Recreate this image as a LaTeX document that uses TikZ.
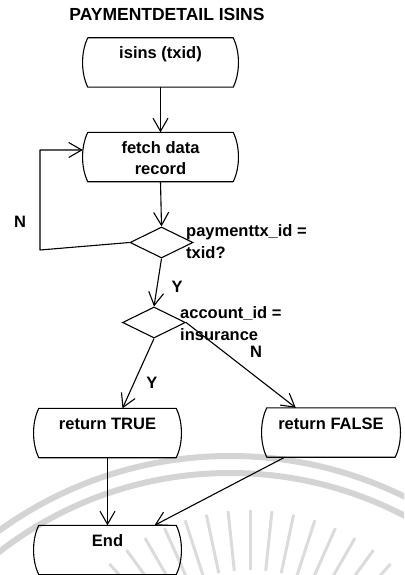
\documentclass[tikz,border=0pt]{standalone}
\usepackage{fontspec}
\setmainfont{Liberation Sans}
\usetikzlibrary{shapes.geometric,arrows.meta,calc}

% outline of a terminal box: flat top and bottom, bowed sides
\newcommand\termframe[1]{%
  \draw[frame] (#1.north west)
    .. controls ([shift={(-7pt,-14pt)}]#1.north west) and ([shift={(-7pt,14pt)}]#1.south west) .. (#1.south west)
    -- (#1.south east)
    .. controls ([shift={(7pt,14pt)}]#1.south east) and ([shift={(7pt,-14pt)}]#1.north east) .. (#1.north east)
    -- cycle;}
% text of a terminal box, set from the top with the first baseline 21pt down
\newcommand\termtext[1]{\parbox[c][49pt][t]{126pt}{\centering\rule{0pt}{21pt}#1}}

\begin{document}
\begin{tikzpicture}[x=1pt,y=-1pt,
  every node/.style={font=\fontsize{16.5}{21}\selectfont\bfseries},
  heading/.style={font=\fontsize{17.5}{21}\selectfont\bfseries},
  term/.style={inner sep=0pt},
  decision/.style={draw, line width=1.1pt, shape=diamond, aspect=2,
    minimum width=63pt, minimum height=31pt, inner sep=0pt},
  frame/.style={line width=1.1pt, line join=round},
  arr/.style={line width=1.1pt, line join=round,
    -{Straight Barb[length=13pt,width=15pt,line width=1.1pt]}},
  note/.style={align=left, inner sep=0pt, anchor=north west,
    font=\fontsize{16.5}{22}\selectfont\bfseries},
  branch/.style={inner sep=0pt},
  wmark/.style={draw=black!17, line width=6pt},
  wray/.style={draw=black!14, line width=3pt}]

\useasboundingbox (0,0) rectangle (404,575);

% faint seal in the background
\begin{scope}
  \clip (0,0) rectangle (404,575);
  \coordinate (wa) at (230,850);
  \draw[wmark] (wa) circle[radius=394pt];
  \draw[wmark] (wa) circle[radius=377pt];
  \coordinate (wr) at (250,720);
  \foreach \a in {48,54,...,138}
    \draw[wray] ($(wr)+(\a:150pt)$) -- ($(wr)+(\a:210pt)$);
\end{scope}

% title
\node[heading] (title) at (167,14) {PAYMENTDETAIL ISINS};

% terminal boxes
\node[term, minimum width=145pt] (start) at (160.5,62.5) {\termtext{isins (txid)}};
\node[term, minimum width=145pt] (fetch) at (160.5,157) {\termtext{fetch data\\record}};
\node[term, minimum width=137pt] (rt) at (107.5,433) {\termtext{return TRUE}};
\node[term, minimum width=128pt] (rf) at (331,432.5) {\termtext{return FALSE}};
\node[term, minimum width=137pt] (end) at (107.5,550) {\termtext{End}};
\foreach \n in {start,fetch,rt,rf,end} \termframe{\n};

% decisions
\node[decision] (d1) at (161.5,242.5) {};
\node[decision] (d2) at (154,322.5) {};
\node[note] (q1) at (186,224) {paymenttx\_id =\\txid?};
\node[note] (q2) at (180,306) {account\_id =\\insurance};

% branch labels
\node[branch] (n1) at (20,222) {N};
\node[branch] (y1) at (177,287) {Y};
\node[branch] (n2) at (256,352) {N};
\node[branch] (y2) at (152,383) {Y};

% flow
\draw[arr] (start.south) -- (fetch.north);
\draw[arr] (fetch.south) -- (d1.north);
\coordinate (lb) at (40,250);
\coordinate (lt) at (40,150);
\draw[arr] (d1.west) -- (lb) -- (lt) -- ([xshift=-5pt]fetch.west |- lt);
\draw[arr] (d1.south) -- (d2.north);
\draw[arr] (d2.south) -- ([xshift=15pt]rt.north);
\draw[arr] (d2.east) -- ([xshift=29pt]rf.north west);
\draw[arr] (rt.south) -- (end.north);
\draw[arr] ([xshift=18pt]rf.south west) -- ([xshift=47pt]end.north);
\end{tikzpicture}
\end{document}
